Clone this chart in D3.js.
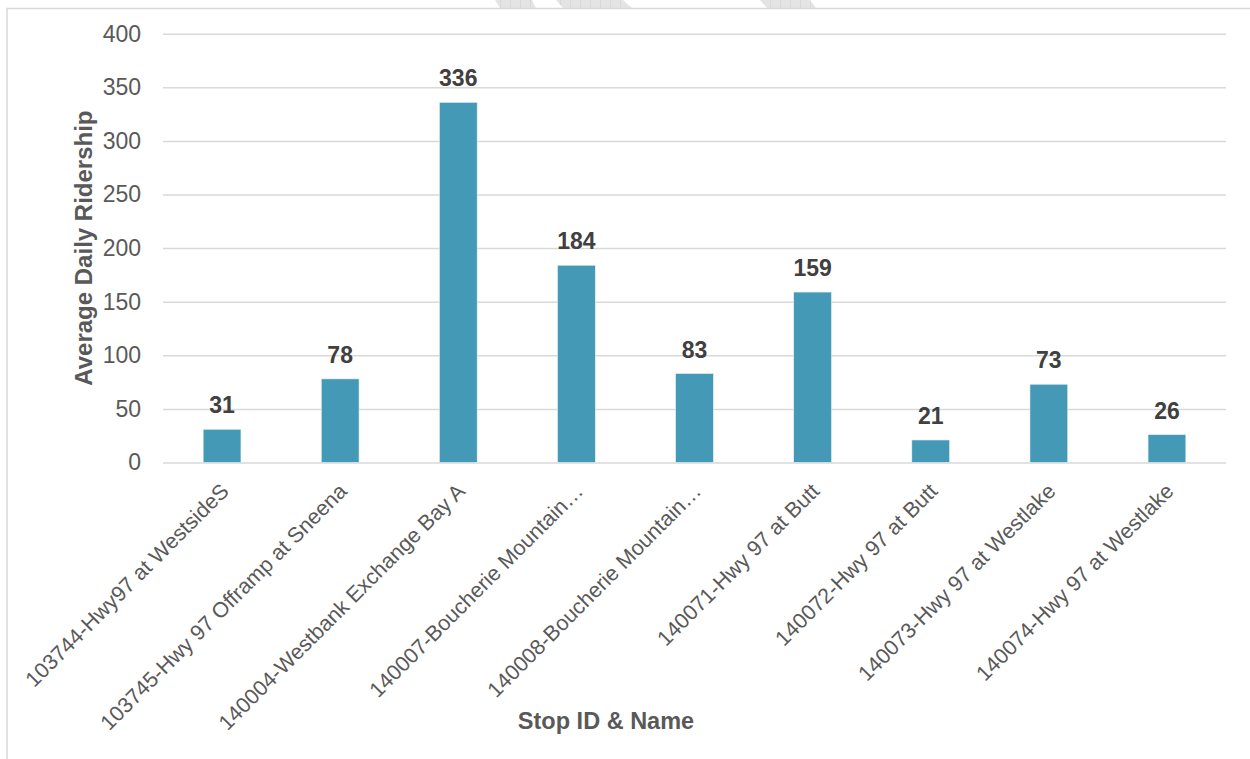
<!DOCTYPE html>
<html>
<head>
<meta charset="utf-8">
<script src="https://cdn.jsdelivr.net/npm/d3@7"></script>
<style>
  body { margin: 0; background: #fff; }
  svg { display: block; font-family: "Liberation Sans", Arial, sans-serif; }
</style>
</head>
<body>
<div class="chart"></div>
<script>
  'use strict';

  // stops along the x axis (two long names are cut off in the original)
  var stops = [
    '103744-Hwy97 at WestsideS',
    '103745-Hwy 97 Offramp at Sneena',
    '140004-Westbank Exchange Bay A',
    '140007-Boucherie Mountain\u2026',
    '140008-Boucherie Mountain\u2026',
    '140071-Hwy 97 at Butt',
    '140072-Hwy 97 at Butt',
    '140073-Hwy 97 at Westlake',
    '140074-Hwy 97 at Westlake'
  ];
  var ridership = [31, 78, 336, 184, 83, 159, 21, 73, 26];
  var yTicks = [0, 50, 100, 150, 200, 250, 300, 350, 400];

  var width = 1250,
      height = 759;

  var svg = d3.select('.chart')
    .append('svg')
    .attr('width', width)
    .attr('height', height);

  // faint watermark scraps peeking in above the frame
  var defs = svg.append('defs');
  var pat = defs.append('pattern')
    .attr('id', 'hatch')
    .attr('width', 10)
    .attr('height', 10)
    .attr('patternUnits', 'userSpaceOnUse');
  pat.append('rect').attr('width', 10).attr('height', 10).attr('fill', '#e4e4e4');
  pat.append('line').attr('x1', 0).attr('x2', 0).attr('y1', 0).attr('y2', 10)
    .attr('stroke', '#cdcdcd').attr('stroke-width', 1);

  var scraps = [
    [[495, 0], [532, 0], [536, 8], [500, 8]],
    [[556, 0], [623, 0], [632, 8], [563, 8]],
    [[760, 0], [810, 0], [816, 8], [767, 8]]
  ];
  svg.selectAll('polygon.scrap')
    .data(scraps)
    .enter().append('polygon')
    .attr('class', 'scrap')
    .attr('points', function(d) { return d.join(' '); })
    .attr('fill', 'url(#hatch)');

  // chart frame (runs off the right and bottom of the picture)
  svg.append('rect')
    .attr('x', 7)
    .attr('y', 8.5)
    .attr('width', 1400)
    .attr('height', 900)
    .attr('fill', 'none')
    .attr('stroke', '#d9d9d9')
    .attr('stroke-width', 1.5);

  var plot = { left: 163, right: 1226, top: 33.7, bottom: 462.5 };

  var x = d3.scaleBand()
    .domain(stops)
    .range([plot.left, plot.right])
    .paddingInner(0.68)
    .paddingOuter(0.34);

  var y = d3.scaleLinear()
    .domain([0, 400])
    .range([plot.bottom, plot.top]);

  // gridlines + tick labels
  var yAxis = d3.axisLeft(y)
    .tickValues(yTicks)
    .tickSize(-(plot.right - plot.left))
    .tickPadding(22);

  var gy = svg.append('g')
    .attr('transform', 'translate(' + plot.left + ',0)')
    .call(yAxis);
  gy.select('.domain').remove();
  gy.selectAll('.tick line')
    .attr('stroke', '#d9d9d9')
    .attr('stroke-width', 1.5);
  gy.selectAll('.tick text')
    .attr('fill', '#595959')
    .attr('font-size', 23)
    .attr('font-family', '"Liberation Sans", Arial, sans-serif');

  // bars
  svg.selectAll('rect.bar')
    .data(ridership)
    .enter().append('rect')
    .attr('class', 'bar')
    .attr('x', function(d, i) { return x(stops[i]); })
    .attr('y', function(d) { return y(d); })
    .attr('width', x.bandwidth())
    .attr('height', function(d) { return plot.bottom - y(d); })
    .attr('fill', '#4499b7')
    .attr('stroke', '#e8f3f7')
    .attr('stroke-width', 0.6);

  // value labels over bars
  svg.selectAll('text.value')
    .data(ridership)
    .enter().append('text')
    .attr('class', 'value')
    .attr('x', function(d, i) { return x(stops[i]) + x.bandwidth() / 2; })
    .attr('y', function(d) { return y(d) - 16; })
    .attr('text-anchor', 'middle')
    .attr('font-size', 23)
    .attr('font-weight', 'bold')
    .attr('fill', '#404040')
    .text(function(d) { return d; });

  // slanted category labels
  svg.selectAll('text.cat')
    .data(stops)
    .enter().append('text')
    .attr('class', 'cat')
    .attr('transform', function(d) {
      var cx = x(d) + x.bandwidth() / 2;
      return 'translate(' + (cx + 8) + ',' + (plot.bottom + 30) + ') rotate(-45)';
    })
    .attr('text-anchor', 'end')
    .attr('font-size', 21.5)
    .attr('fill', '#595959')
    .text(function(d) { return d; });

  // axis titles
  svg.append('text')
    .attr('transform', 'translate(92,' + ((plot.top + plot.bottom) / 2) + ') rotate(-90)')
    .attr('text-anchor', 'middle')
    .attr('font-size', 24)
    .attr('font-weight', 'bold')
    .attr('fill', '#595959')
    .text('Average Daily Ridership');

  svg.append('text')
    .attr('x', 606)
    .attr('y', 729)
    .attr('text-anchor', 'middle')
    .attr('font-size', 23.5)
    .attr('font-weight', 'bold')
    .attr('fill', '#595959')
    .text('Stop ID & Name');
</script>
</body>
</html>
